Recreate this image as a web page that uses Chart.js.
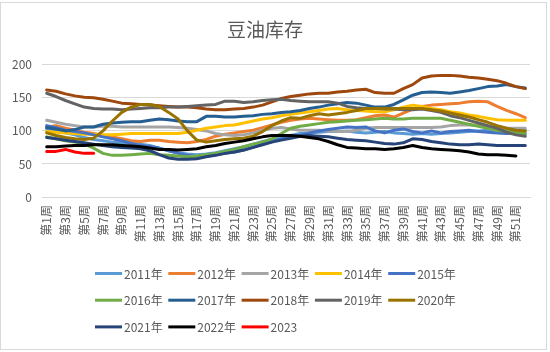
<!DOCTYPE html>
<html>
<head>
<meta charset="utf-8">
<script src="https://cdn.jsdelivr.net/npm/chart.js@4/dist/chart.umd.min.js"></script>
<style>
html,body{margin:0;padding:0;background:#fff;}
#wrap{width:550px;height:352px;position:relative;}
</style>
</head>
<body>
<div id="wrap"><canvas id="c" width="550" height="352"></canvas></div>
<script>
const weeks = [];
for (let i = 1; i <= 52; i++) weeks.push('第' + i + '周');

const seriesNames = ['2011年','2012年','2013年','2014年','2015年','2016年','2017年','2018年','2019年','2020年','2021年','2022年','2023'];
const seriesColors = ['#5B9BD5','#ED7D31','#A5A5A5','#FFC000','#4472C4','#70AD47','#255E91','#9E480E','#636363','#997300','#264478','#000000','#FF0000'];

const y2011 = [103,100,97,94,90,87,85,83,82,81,80,78,74,70,67,65,64,65,67,70,73,76,80,84,87,90,93,96,97,98,99,99,100,98,97,98,99,97,96,95,96,95,96,97,98,99,100,101,101,100,101,101];
const y2012 = [106,108,104,101,98,96,93,91,88,85,84,86,86,84,83,82,84,87,92,95,97,99,101,105,109,113,116,118,119,118,117,116,116,117,120,123,124,121,127,133,137,139,140,141,142,144,145,144,137,131,126,120];
const y2013 = [116,113,110,108,106,106,107,107,106,106,106,106,106,106,105,104,102,100,96,94,93,94,97,101,104,105,103,101,101,101,100,99,99,101,104,105,105,105,105,105,105,105,106,108,109,109,108,106,105,104,104,104];
const y2014 = [99,98,97,96,95,95,94,94,95,96,96,96,96,96,96,98,101,104,106,108,109,112,115,118,120,123,125,127,129,131,133,134,132,131,130,129,129,132,136,139,137,134,132,129,127,124,122,119,117,116,116,116];
const y2015 = [108,105,101,99,97,94,91,88,85,81,78,76,74,70,66,63,61,62,64,66,68,71,75,80,84,88,90,93,97,100,102,104,106,105,106,100,97,101,103,99,97,100,97,99,100,101,99,98,97,96,97,96];
const y2016 = [91,88,85,83,80,74,66,63,63,64,65,66,64,63,62,61,62,64,66,69,72,76,80,83,88,96,104,107,109,111,113,114,115,116,117,118,119,118,118,119,119,119,119,116,113,110,107,104,101,99,97,96];
const y2017 = [105,103,100,102,106,106,110,112,113,114,114,116,118,117,115,114,114,122,122,121,121,122,123,125,126,128,129,131,134,136,139,141,143,142,139,136,136,140,147,154,158,159,158,157,159,161,164,167,168,170,167,165];
const y2018 = [162,160,156,153,151,150,148,145,142,141,140,139,138,137,136,136,135,133,132,132,133,134,136,139,144,149,152,154,156,157,157,159,160,162,163,158,157,157,164,170,180,183,184,184,183,181,180,178,176,172,167,164];
const y2019 = [157,152,146,141,136,134,133,133,132,133,134,135,135,136,136,137,138,139,140,145,145,143,144,146,147,148,146,145,144,144,144,142,137,135,134,134,133,133,132,132,133,131,128,123,120,116,112,108,104,98,94,92];
const y2020 = [97,93,90,88,87,89,100,115,128,136,140,140,137,128,118,100,86,83,85,87,88,89,92,99,108,115,120,119,123,126,124,126,128,131,134,134,134,134,134,134,134,132,130,127,124,121,117,113,108,104,101,100];
const y2021 = [90,88,86,84,82,80,78,76,75,74,73,70,64,59,57,57,58,61,63,66,68,71,75,79,83,86,89,92,93,92,91,89,87,86,85,83,81,80,82,88,87,84,82,80,79,79,80,79,78,78,78,78];
const y2022 = [76,76,77,78,78,79,79,79,78,77,76,74,72,72,71,72,73,76,78,81,83,85,88,91,93,93,93,92,90,88,84,79,75,74,73,73,72,73,75,78,75,73,72,71,70,68,65,64,64,63,62];
const y2023 = [69,69,72,68,66,66];

const seriesData = [y2011,y2012,y2013,y2014,y2015,y2016,y2017,y2018,y2019,y2020,y2021,y2022,y2023];
const yTicks = [0,50,100,150,200];

const FONT = '"Noto Sans CJK SC","Noto Sans",sans-serif';
const TXT = '#595959';

const datasets = seriesData.map((d, i) => ({
  label: seriesNames[i],
  data: d,
  borderColor: seriesColors[i],
  backgroundColor: seriesColors[i],
  borderWidth: 3,
  pointRadius: 0,
  pointHoverRadius: 0,
  tension: 0,
  fill: false,
  borderJoinStyle: 'round',
  borderCapStyle: 'round',
  order: seriesData.length - i
}));

const frameAndLegend = {
  id: 'frameAndLegend',
  beforeDraw(chart) {
    const ctx = chart.ctx;
    ctx.save();
    ctx.fillStyle = '#fff';
    ctx.fillRect(0, 0, chart.width, chart.height);
    ctx.strokeStyle = '#d9d9d9';
    ctx.lineWidth = 1;
    ctx.strokeRect(0.5, 2.5, 546, 347);
    ctx.restore();
  },
  afterDraw(chart) {
    const ctx = chart.ctx;
    ctx.save();
    ctx.font = '12px ' + FONT;
    ctx.textBaseline = 'middle';
    ctx.textAlign = 'left';
    chart.data.datasets.forEach((ds, i) => {
      const row = Math.floor(i / 5), col = i % 5;
      const x = 95 + col * 73.3;
      const y = 273.5 + row * 26.7;
      ctx.strokeStyle = ds.borderColor;
      ctx.lineWidth = 3;
      ctx.lineCap = 'butt';
      ctx.beginPath();
      ctx.moveTo(x, y);
      ctx.lineTo(x + 27, y);
      ctx.stroke();
      ctx.fillStyle = TXT;
      ctx.fillText(ds.label, x + 29, y + 0.5);
    });
    ctx.restore();
  }
};

new Chart(document.getElementById('c'), {
  type: 'line',
  data: { labels: weeks, datasets },
  plugins: [frameAndLegend],
  options: {
    responsive: false,
    animation: false,
    events: [],
    layout: { padding: { left: 0, right: 20, top: 0, bottom: 0 } },
    plugins: {
      legend: { display: false },
      tooltip: { enabled: false },
      title: {
        display: true,
        text: '豆油库存',
        color: TXT,
        font: { family: FONT, size: 19, weight: 'normal', lineHeight: 1.2 },
        padding: { top: 18, bottom: 24 }
      }
    },
    scales: {
      x: {
        offset: true,
        grid: { display: false, drawTicks: false },
        border: { display: true, color: '#d9d9d9', width: 1 },
        ticks: {
          autoSkip: false,
          maxRotation: 90,
          minRotation: 90,
          padding: 8,
          color: TXT,
          font: { family: FONT, size: 12 },
          callback: function(v, i) { return i % 2 === 0 ? weeks[i] : ''; }
        },
        afterFit(scale) { scale.height = 155; }
      },
      y: {
        min: 0,
        max: 200,
        afterBuildTicks(scale) { scale.ticks = yTicks.map(v => ({ value: v })); },
        grid: { color: '#d9d9d9', lineWidth: 1, drawTicks: false },
        border: { display: false },
        ticks: {
          padding: 10,
          color: TXT,
          font: { family: FONT, size: 12 }
        },
        afterFit(scale) { scale.width = 42; }
      }
    }
  }
});
</script>
</body>
</html>
